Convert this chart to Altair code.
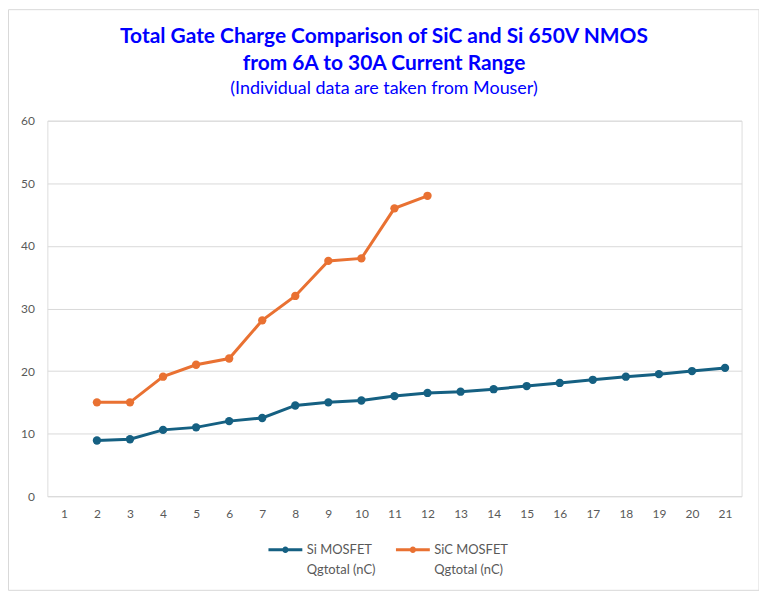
import altair as alt
import pandas as pd

x_labels = list(range(1, 22))
si_x = list(range(2, 22))
si_vals = [8.9, 9.1, 10.6, 11.0, 12.0, 12.5, 14.5, 15.0, 15.3, 16.0,
           16.5, 16.7, 17.1, 17.6, 18.1, 18.6, 19.1, 19.5, 20.0, 20.5]
sic_x = list(range(2, 13))
sic_vals = [15.0, 15.0, 19.1, 21.0, 22.0, 28.1, 32.0, 37.6, 38.0, 46.0, 48.0]
series_names = ["Si MOSFET Qgtotal (nC)", "SiC MOSFET Qgtotal (nC)"]
series_colors = ["#156082", "#E97132"]
y_ticks = [0, 10, 20, 30, 40, 50, 60]

rows = [{"x": x, "y": v, "series": series_names[0]} for x, v in zip(si_x, si_vals)]
rows += [{"x": x, "y": v, "series": series_names[1]} for x, v in zip(sic_x, sic_vals)]
df = pd.DataFrame(rows)

FONT = "Lato"
GRAY = "#595959"

legend_symbol = "M-1,0 L1,0 M-0.1,0 A0.1,0.1 0 1,1 0.1,0 A0.1,0.1 0 1,1 -0.1,0 Z"

base = alt.Chart(df).encode(
    x=alt.X("x:O", scale=alt.Scale(domain=x_labels),
            axis=alt.Axis(title=None, labelAngle=0, ticks=False, domain=False,
                          grid=False, labelColor=GRAY, labelFont=FONT,
                          labelFontSize=12, labelPadding=12)),
    y=alt.Y("y:Q", scale=alt.Scale(domain=[0, 60], nice=False),
            axis=alt.Axis(title=None, values=y_ticks, ticks=False, domain=False,
                          gridColor="#d9d9d9", gridWidth=1, labelColor=GRAY,
                          labelFont=FONT, labelFontSize=12, labelPadding=13)),
    color=alt.Color("series:N",
                    scale=alt.Scale(domain=series_names, range=series_colors),
                    legend=alt.Legend(title=None, orient="none", legendX=220.5,
                                      legendY=412, direction="horizontal",
                                      columns=2, columnPadding=13, padding=0,
                                      gridAlign="each",
                                      symbolType=legend_symbol, symbolSize=1156,
                                      symbolStrokeWidth=3, labelOffset=3,
                                      labelFont=FONT, labelFontSize=13,
                                      labelColor=GRAY,
                                      labelLimit=0,
                                      labelExpr="split(replace(datum.label, ' Qgtotal', '|Qgtotal'), '|')")),
)

lines = base.mark_line(strokeWidth=3)
points = base.mark_point(filled=True, size=70, opacity=1)

border = alt.Chart(alt.Data(values=[{"a": 1}])).mark_rect(
    fillOpacity=0, stroke="#d9d9d9", strokeWidth=1
).encode(
    x=alt.value(-39), x2=alt.value(714.5),
    y=alt.value(-111.5), y2=alt.value(471.5),
)

chart = alt.layer(border, lines, points).properties(
    width=697,
    height=377,
    autosize=alt.AutoSizeParams(type="none"),
    padding={"left": 39.5, "top": 112, "right": 17.5, "bottom": 95},
    title=alt.TitleParams(
        text=["Total Gate Charge Comparison of SiC and Si 650V NMOS",
              "from 6A to 30A Current Range"],
        subtitle="(Individual data are taken from Mouser)",
        font=FONT, fontSize=21, fontWeight="bold", color="#0000FF",
        lineHeight=27, subtitleFont=FONT, subtitleFontSize=18,
        subtitleColor="#0000FF", subtitleFontWeight="normal",
        subtitlePadding=6, anchor="middle", frame="group", dx=-10.5,
        offset=-89,
    ),
).configure_view(stroke=None).configure(
    style={"guide-label": {"lineHeight": 20}}
)

chart.save("out.html", embed_options={"renderer": "svg", "actions": False})
